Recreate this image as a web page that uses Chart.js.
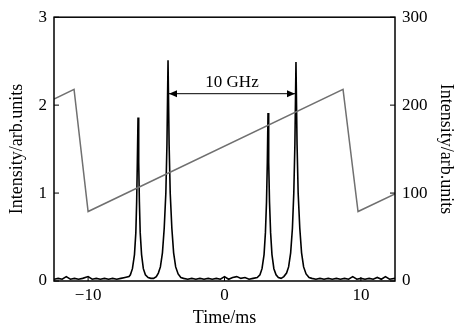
<!DOCTYPE html>
<html>
<head>
<title>Intensity vs time</title>
<script src="https://cdn.jsdelivr.net/npm/chart.js@4/dist/chart.umd.min.js"></script>
<style>
  html, body { margin: 0; padding: 0; background: #fff; }
  #wrap { width: 459px; height: 331px; }
</style>
</head>
<body>
<div id="wrap"><canvas id="chart" width="459" height="331"></canvas></div>

<script>
// pulse trace (left axis)
const TIME = [
  -12.5, -12.2, -11.9, -11.6, -11.3, -11.0, -10.7, -10.4, -10.0, -9.7, -9.4, -9.1, -8.8, -8.5, -8.2, -7.9, -7.6, -7.3, -7.0,
  -6.9, -6.75, -6.6, -6.5, -6.44, -6.39, -6.34, -6.29, -6.24, -6.18, -6.08, -5.95, -5.8, -5.6, -5.4,
  -5.2, -5.0,
  -4.85, -4.7, -4.55, -4.42, -4.3, -4.22, -4.14, -4.06, -3.98, -3.86, -3.73, -3.58, -3.4, -3.2, -3.0,
  -2.7, -2.4, -2.1, -1.8, -1.5, -1.2, -0.9, -0.6, -0.3, 0, 0.3, 0.6, 0.9, 1.2, 1.5, 1.8, 2.1, 2.4,
  2.6, 2.75, 2.9, 3.0, 3.08, 3.14, 3.19, 3.24, 3.3, 3.38, 3.48, 3.62, 3.78, 3.95, 4.15, 4.35,
  4.55, 4.7, 4.85, 4.98, 5.08, 5.16, 5.24, 5.32, 5.4, 5.52, 5.65, 5.8, 5.98, 6.2, 6.4,
  6.7, 7.0, 7.3, 7.6, 7.9, 8.2, 8.5, 8.8, 9.1, 9.4, 9.7, 10.0, 10.3, 10.6, 10.9, 11.2, 11.5, 11.8, 12.1, 12.5
];
const INTENSITY = [
  0.02, 0.03, 0.02, 0.05, 0.02, 0.03, 0.02, 0.03, 0.05, 0.02, 0.03, 0.02, 0.03, 0.02, 0.03, 0.02, 0.03, 0.04, 0.05,
  0.07, 0.14, 0.30, 0.55, 0.90, 1.35, 1.86, 1.35, 0.90, 0.55, 0.30, 0.14, 0.07, 0.04, 0.03,
  0.03, 0.05,
  0.09, 0.16, 0.32, 0.60, 1.00, 1.55, 2.51, 1.55, 1.00, 0.60, 0.32, 0.16, 0.08, 0.04, 0.03,
  0.02, 0.03, 0.02, 0.03, 0.02, 0.03, 0.02, 0.03, 0.02, 0.05, 0.02, 0.04, 0.05, 0.03, 0.04, 0.02, 0.03, 0.04,
  0.07, 0.14, 0.30, 0.55, 0.90, 1.35, 1.91, 1.35, 0.90, 0.55, 0.30, 0.14, 0.07, 0.04, 0.03, 0.05,
  0.09, 0.16, 0.32, 0.60, 1.00, 1.55, 2.49, 1.55, 1.00, 0.60, 0.32, 0.16, 0.08, 0.04, 0.03,
  0.02, 0.03, 0.02, 0.03, 0.02, 0.03, 0.02, 0.03, 0.02, 0.05, 0.02, 0.03, 0.02, 0.03, 0.02, 0.04, 0.02, 0.05, 0.02, 0.03
];

// ramp (right axis)
const RAMP_TIME = [-12.5, -11.03, -10.0, 8.69, 9.79, 12.5];
const RAMP_VALUE = [207, 218, 79, 218, 79, 99];

// axis ticks
const X_TICKS = [-10, 0, 10];
const Y_LEFT_TICKS = [0, 1, 2, 3];
const Y_RIGHT_TICKS = [0, 100, 200, 300];

// annotation between the two tall peaks
const MARK_FROM = -4.14;
const MARK_TO = 5.24;
const MARK_LEVEL = 2.13;
const MARK_TEXT = '10 GHz';

const FONT = 'Liberation Serif, Times New Roman, serif';

const pulse = TIME.map((t, i) => ({ x: t, y: INTENSITY[i] }));
const ramp = RAMP_TIME.map((t, i) => ({ x: t, y: RAMP_VALUE[i] }));

const frame = {
  id: 'frame',
  afterDraw(chart) {
    const a = chart.chartArea, c = chart.ctx;
    const x = chart.scales.x, y = chart.scales.y, y2 = chart.scales.y2;
    c.save();
    c.strokeStyle = '#000';
    c.lineWidth = 1.5;
    c.strokeRect(a.left, a.top, a.right - a.left, a.bottom - a.top);

    // inward tick marks
    c.lineWidth = 1;
    c.beginPath();
    y.ticks.forEach(t => { const p = y.getPixelForValue(t.value); c.moveTo(a.left, p); c.lineTo(a.left + 5, p); });
    y2.ticks.forEach(t => { const p = y2.getPixelForValue(t.value); c.moveTo(a.right, p); c.lineTo(a.right - 5, p); });
    x.ticks.forEach(t => { const p = x.getPixelForValue(t.value); c.moveTo(p, a.bottom); c.lineTo(p, a.bottom - 4); });
    c.stroke();

    // double arrow with label
    const x1 = x.getPixelForValue(MARK_FROM), x2 = x.getPixelForValue(MARK_TO);
    const yy = y.getPixelForValue(MARK_LEVEL);
    c.beginPath();
    c.moveTo(x1, yy); c.lineTo(x2, yy);
    c.stroke();
    c.fillStyle = '#000';
    c.beginPath();
    c.moveTo(x1 + 1, yy); c.lineTo(x1 + 9, yy - 3.5); c.lineTo(x1 + 9, yy + 3.5); c.closePath();
    c.fill();
    c.beginPath();
    c.moveTo(x2 - 1, yy); c.lineTo(x2 - 9, yy - 3.5); c.lineTo(x2 - 9, yy + 3.5); c.closePath();
    c.fill();
    c.font = '17px ' + FONT;
    c.textAlign = 'center';
    c.textBaseline = 'alphabetic';
    c.fillText(MARK_TEXT, (x1 + x2) / 2, yy - 7);
    c.restore();
  }
};

new Chart(document.getElementById('chart').getContext('2d'), {
  type: 'line',
  data: {
    datasets: [
      {
        label: 'Ramp',
        data: ramp,
        yAxisID: 'y2',
        borderColor: '#707070',
        borderWidth: 1.5,
        pointRadius: 0,
        tension: 0
      },
      {
        label: 'Pulse',
        data: pulse,
        yAxisID: 'y',
        borderColor: '#000',
        borderWidth: 1.6,
        pointRadius: 0,
        tension: 0
      }
    ]
  },
  options: {
    responsive: false,
    animation: false,
    layout: { padding: { top: 16, left: 0, right: 0, bottom: 0 } },
    plugins: { legend: { display: false }, tooltip: { enabled: false } },
    scales: {
      x: {
        type: 'linear',
        min: -12.5,
        max: 12.5,
        afterBuildTicks: (axis) => { axis.ticks = X_TICKS.map(v => ({ value: v })); },
        afterFit: (axis) => { axis.height = 50; },
        grid: { display: false, drawTicks: false },
        border: { display: false },
        ticks: { color: '#000', font: { family: FONT, size: 17 }, padding: 4,
                 callback: v => (v < 0 ? '\u2212' + Math.abs(v) : '' + v) },
        title: { display: true, text: 'Time/ms', color: '#000', font: { family: FONT, size: 18 }, padding: { top: 0, bottom: 2 } }
      },
      y: {
        position: 'left',
        min: 0,
        max: 3,
        afterBuildTicks: (axis) => { axis.ticks = Y_LEFT_TICKS.map(v => ({ value: v })); },
        afterFit: (axis) => { axis.width = 54; },
        grid: { display: false, drawTicks: false },
        border: { display: false },
        ticks: { color: '#000', font: { family: FONT, size: 17 }, padding: 7 },
        title: { display: true, text: 'Intensity/arb.units', color: '#000', font: { family: FONT, size: 18 }, padding: { top: 6, bottom: 0 } }
      },
      y2: {
        position: 'right',
        min: 0,
        max: 300,
        afterBuildTicks: (axis) => { axis.ticks = Y_RIGHT_TICKS.map(v => ({ value: v })); },
        afterFit: (axis) => { axis.width = 64; },
        grid: { display: false, drawTicks: false },
        border: { display: false },
        ticks: { color: '#000', font: { family: FONT, size: 17 }, padding: 7 },
        title: { display: true, text: 'Intensity/arb.units', color: '#000', font: { family: FONT, size: 18 }, padding: { top: 2, bottom: 0 } }
      }
    }
  },
  plugins: [frame]
});
</script>
</body>
</html>
